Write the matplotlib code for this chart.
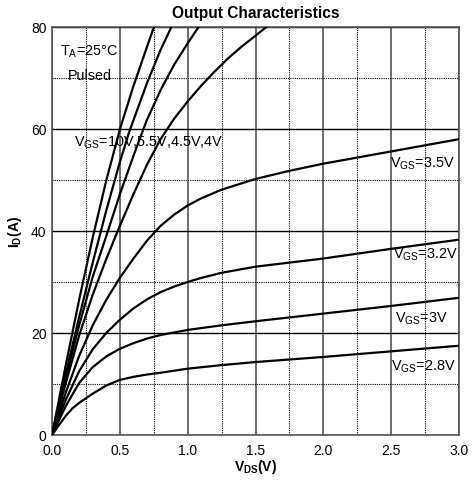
import matplotlib
matplotlib.use("Agg")
import matplotlib.pyplot as plt
from matplotlib.ticker import MultipleLocator, FormatStrFormatter

plt.rcParams['font.family'] = ['Liberation Sans', 'DejaVu Sans']
plt.rcParams['mathtext.fontset'] = 'custom'
plt.rcParams['mathtext.rm'] = 'Liberation Sans'
plt.rcParams['mathtext.bf'] = 'Liberation Sans:bold'

# V_DS (V), I_D (A)
v_10 = [0, 0.1, 0.2, 0.3, 0.4, 0.5, 0.6, 0.7, 0.75]
i_10 = [0, 13.5, 26.5, 38.7, 49.9, 59.9, 68.4, 76.1, 79.9]
v_55 = [0, 0.1, 0.2, 0.3, 0.4, 0.5, 0.57, 0.7, 0.8, 0.88]
i_55 = [0, 11.8, 23.1, 33.8, 44.0, 53.5, 59.5, 69.0, 75.5, 80]
v_45 = [0, 0.1, 0.2, 0.3, 0.4, 0.5, 0.6, 0.66, 0.7, 0.8, 0.9, 1.0, 1.08]
i_45 = [0, 11, 21.5, 31, 39, 47.2, 54.7, 59, 61.8, 67.6, 72.6, 76.8, 80]
v_4 = [0, 0.1, 0.2, 0.3, 0.4, 0.5, 0.6, 0.7, 0.8, 0.9, 1.0, 1.1, 1.2, 1.3, 1.4, 1.5, 1.58]
i_4 = [0, 10, 19.5, 27.5, 34.5, 41, 47.2, 53, 58, 62, 65.4, 68.5, 71.3, 73.9, 76.2, 78.3, 80]
v_35 = [0, 0.1, 0.2, 0.3, 0.4, 0.5, 0.6, 0.7, 0.8, 0.9, 1.0, 1.1, 1.25, 1.5, 1.75, 2.0, 2.5, 3.0]
i_35 = [0, 8.2, 15.5, 21.5, 26.5, 30.8, 34.6, 38.1, 41.0, 43.2, 45.0, 46.4, 48.1, 50.2, 51.8, 53.2, 55.6, 58]
v_32 = [0, 0.1, 0.2, 0.3, 0.4, 0.5, 0.6, 0.7, 0.8, 0.9, 1.0, 1.1, 1.25, 1.5, 1.75, 2.0, 2.5, 3.0]
i_32 = [0, 6.8, 12.5, 16.8, 20, 22.6, 24.8, 26.6, 28, 29.1, 30, 30.8, 31.8, 33.0, 33.8, 34.6, 36.5, 38.3]
v_3 = [0, 0.1, 0.2, 0.3, 0.4, 0.5, 0.6, 0.7, 0.8, 0.9, 1.0, 1.25, 1.5, 2.0, 2.5, 3.0]
i_3 = [0, 5.6, 10.2, 13.3, 15.4, 16.9, 18, 18.9, 19.6, 20.1, 20.6, 21.5, 22.3, 23.8, 25.3, 26.9]
v_28 = [0, 0.05, 0.1, 0.15, 0.2, 0.25, 0.3, 0.4, 0.5, 0.6, 0.7, 0.8, 0.9, 1.0, 1.25, 1.5, 2.0, 2.5, 3.0]
i_28 = [0, 1.9, 3.7, 5.2, 6.3, 7.2, 8.1, 9.7, 10.8, 11.4, 11.85, 12.2, 12.6, 13.0, 13.7, 14.3, 15.3, 16.4, 17.5]

curves = [(v_10, i_10), (v_55, i_55), (v_45, i_45), (v_4, i_4),
          (v_35, i_35), (v_32, i_32), (v_3, i_3), (v_28, i_28)]

fig = plt.figure(figsize=(4.74, 4.81), dpi=100)
ax = fig.add_axes([0.1097, 0.0936, 0.8587, 0.8482])

for v, i in curves:
    ax.plot(v, i, color='black', lw=1.6, solid_capstyle='round',
            solid_joinstyle='round', zorder=3)

ax.set_xlim(0, 3)
ax.set_ylim(0, 80)
ax.xaxis.set_major_locator(MultipleLocator(0.5))
ax.xaxis.set_minor_locator(MultipleLocator(0.25))
ax.yaxis.set_major_locator(MultipleLocator(20))
ax.yaxis.set_minor_locator(MultipleLocator(10))
ax.xaxis.set_major_formatter(FormatStrFormatter('%.1f'))
ax.tick_params(which='both', length=0, labelsize=10)
ax.tick_params(axis='x', pad=6)
ax.tick_params(axis='y', pad=4)
ax.grid(which='major', axis='x', color='#555555', lw=1.2)
ax.grid(which='major', axis='y', color='black', lw=1.0)
ax.grid(which='minor', color='black', lw=0.8, linestyle=(0, (1, 1)))
for s in ax.spines.values():
    s.set_color('#555555')
    s.set_linewidth(1.2)

ax.set_title('Output Characteristics', fontsize=11.2, fontweight='bold', pad=7)
ax.set_xlabel(r'$\mathbf{V_{DS}(V)}$', fontsize=10, labelpad=0)
ax.set_ylabel(r'$\mathbf{I_D(A)}$', fontsize=10, labelpad=5)

ax.text(0.27, 75.3, r'T$_\mathrm{A}$=25°C', fontsize=10.4, ha='center', va='center')
ax.text(0.28, 70.6, 'Pulsed', fontsize=10.4, ha='center', va='center')
ax.text(0.165, 57.5, r'V$_\mathrm{GS}$=10V,5.5V,4.5V,4V', fontsize=10.4, va='center')
ax.text(2.49, 53.3, r'V$_\mathrm{GS}$=3.5V', fontsize=10.4, va='center')
ax.text(2.51, 35.5, r'V$_\mathrm{GS}$=3.2V', fontsize=10.4, va='center')
ax.text(2.53, 22.9, r'V$_\mathrm{GS}$=3V', fontsize=10.4, va='center')
ax.text(2.50, 13.6, r'V$_\mathrm{GS}$=2.8V', fontsize=10.4, va='center')

fig.savefig('out.png', dpi=100)
